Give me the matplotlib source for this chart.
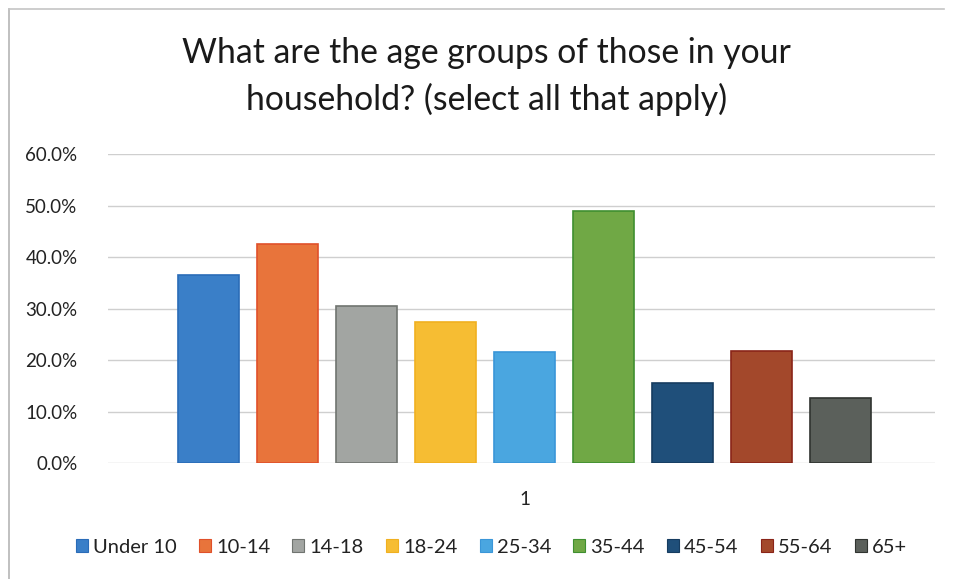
import matplotlib.pyplot as plt
from matplotlib.lines import Line2D
from matplotlib.ticker import PercentFormatter

plt.rcParams['font.family'] = ['Lato', 'DejaVu Sans']

# Survey answers, share of households per age group
age_groups = ['Under 10', '10-14', '14-18', '18-24', '25-34',
              '35-44', '45-54', '55-64', '65+']
shares = [36.5, 42.5, 30.5, 27.4, 21.5, 48.9, 15.6, 21.7, 12.7]
colors = ['#3a7fc8', '#e8743b', '#a2a5a2', '#f6bd33', '#4aa6e0',
          '#70a845', '#1f4f7a', '#a3482b', '#5b605b']
edges = ['#2a6cb8', '#e0502a', '#707470', '#f0b020', '#3a96d8',
         '#3f8f30', '#163c60', '#8a2418', '#303430']

fig = plt.figure(figsize=(9.54, 5.79), dpi=100)
ax = fig.add_axes([0.1132, 0.2003, 0.8668, 0.5337])

step = 0.0955
width = 0.074
n = len(age_groups)
for i, (name, val) in enumerate(zip(age_groups, shares)):
    ax.bar((i - (n - 1) / 2) * step + 0.004, val, width, color=colors[i],
           edgecolor=edges[i], linewidth=1.2, label=name, zorder=3)

ax.set_xlim(-0.5, 0.5)
ax.set_ylim(0, 60)
ax.set_yticks(range(0, 61, 10))
ax.yaxis.set_major_formatter(PercentFormatter(decimals=1))
ax.set_xticks([0.004])
ax.set_xticklabels(['1'])
ax.tick_params(axis='both', length=0, labelsize=13.5, colors='#222222')
ax.tick_params(axis='x', pad=20)
ax.tick_params(axis='y', pad=22)
ax.grid(axis='y', color='#cfcfcf', linewidth=1, zorder=0)
for s in ax.spines.values():
    s.set_visible(False)

fig.text(0.51, 0.868, 'What are the age groups of those in your\nhousehold? (select all that apply)',
         ha='center', va='center', fontsize=24.3, color='#1a1a1a', linespacing=1.5)

handles = [plt.Rectangle((0, 0), 1, 1, facecolor=c, edgecolor=e, linewidth=0.8)
           for c, e in zip(colors, edges)]
fig.legend(handles, age_groups, loc='center', bbox_to_anchor=(0.515, 0.055),
           ncol=n, frameon=False, fontsize=14.5, handlelength=0.6, handleheight=0.6,
           handletextpad=0.25, columnspacing=1.1, labelcolor='#222222')

# chart frame (left and top edges)
fig.add_artist(Line2D([0.009, 0.009], [0, 0.985], color='#b5b5b5', linewidth=1.2))
fig.add_artist(Line2D([0.009, 0.99], [0.985, 0.985], color='#c5c5c5', linewidth=1.2))

fig.savefig('out.png', dpi=100)
